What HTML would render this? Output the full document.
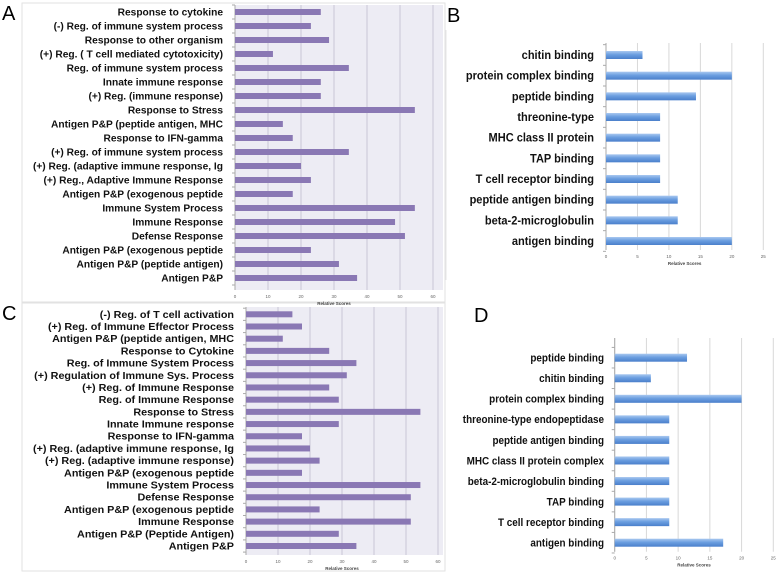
<!DOCTYPE html>
<html><head><meta charset="utf-8"><style>
html,body{margin:0;padding:0;background:#fff;}
svg{display:block;font-family:"Liberation Sans",sans-serif;}
</style></head><body>
<svg id="fig" width="778" height="574" viewBox="0 0 778 574">
<defs>
<linearGradient id="blueg" x1="0" y1="0" x2="0" y2="1">
<stop offset="0" stop-color="#a9c8f0"/><stop offset="0.45" stop-color="#6b9ee0"/><stop offset="1" stop-color="#4a7fcb"/>
</linearGradient>
</defs>
<rect x="22" y="3" width="423" height="299" fill="#fff" stroke="#e2e2e2"/>
<rect x="22" y="303" width="423" height="268" fill="#fff" stroke="#e2e2e2"/>
<line x1="446" y1="30" x2="446" y2="280" stroke="#e4e4e4"/>
<text x="2" y="20" font-size="20">A</text>
<text x="447" y="22" font-size="20">B</text>
<text x="2" y="320" font-size="20">C</text>
<text x="474" y="322" font-size="20">D</text>
<g id="charts"></g>
</svg>
<script>
const catsA = ["Response to cytokine","(-) Reg. of immune system process","Response to other organism","(+) Reg. ( T cell mediated cytotoxicity)","Reg. of immune system process","Innate immune response","(+) Reg. (immune response)","Response to Stress","Antigen P&P (peptide antigen, MHC","Response to IFN-gamma","(+) Reg. of immune system process","(+) Reg. (adaptive immune response, Ig","(+) Reg., Adaptive Immune Response","Antigen P&P (exogenous peptide","Immune System Process","Immune Response","Defense Response","Antigen P&P  (exogenous peptide","Antigen P&P (peptide antigen)","Antigen P&P"];
const valsA = [26,23,28.5,11.5,34.5,26,26,54.5,14.5,17.5,34.5,20,23,17.5,54.5,48.5,51.5,23,31.5,37];
const ticksA = [0,10,20,30,40,50,60];

const catsB = ["chitin binding","protein complex binding","peptide binding","threonine-type","MHC class II protein","TAP binding","T cell receptor binding","peptide antigen binding","beta-2-microglobulin","antigen binding"];
const valsB = [5.8,20,14.3,8.6,8.6,8.6,8.6,11.4,11.4,20];
const ticksB = [0,5,10,15,20,25];

const catsC = ["(-) Reg. of T cell activation","(+) Reg. of Immune Effector Process","Antigen P&P (peptide antigen, MHC","Response to Cytokine","Reg. of Immune System Process","(+) Regulation of Immune Sys. Process","(+) Reg. of Immune Response","Reg. of Immune Response","Response to Stress","Innate Immune response","Response to IFN-gamma","(+) Reg. (adaptive immune response, Ig","(+) Reg. (adaptive immune response)","Antigen P&P (exogenous peptide","Immune System Process","Defense Response","Antigen P&P (exogenous peptide","Immune Response","Antigen P&P  (Peptide Antigen)","Antigen P&P"];
const valsC = [14.5,17.5,11.5,26,34.5,31.5,26,29,54.5,29,17.5,20,23,17.5,54.5,51.5,23,51.5,29,34.5];
const ticksC = [0,10,20,30,40,50,60];

const catsD = ["peptide binding","chitin binding","protein complex binding","threonine-type endopeptidase","peptide antigen binding","MHC class II protein complex","beta-2-microglobulin binding","TAP binding","T cell receptor binding","antigen binding"];
const valsD = [11.4,5.7,20,8.6,8.6,8.6,8.6,8.6,8.6,17.1];
const ticksD = [0,5,10,15,20,25];

const NS = "http://www.w3.org/2000/svg";
const root = document.getElementById("charts");
function mk(tag, attrs, parent) {
  const e = document.createElementNS(NS, tag);
  for (const k in attrs) e.setAttribute(k, attrs[k]);
  (parent || root).appendChild(e);
  return e;
}

function chart(cfg, cats, vals, ticks) {
  const g = mk("g", {});
  
  
  const max = ticks[ticks.length - 1];
  const xs = v => cfg.x0 + (v / max) * (cfg.x1 - cfg.x0);
  const step = (cfg.yLast - cfg.yFirst) / (cats.length - 1);
  const ys = i => cfg.yFirst + i * step;
  if (cfg.bg) {
    const bg = mk("rect", {x: cfg.x0, y: cfg.top, width: cfg.bgRight - cfg.x0, height: cfg.bottom - cfg.top, fill: cfg.bg}, g);
    
    
  }
  ticks.forEach(t => {
    const gl = mk("line", {x1: xs(t), x2: xs(t), y1: cfg.top, y2: cfg.bottom, stroke: cfg.grid, "stroke-width": 1}, g);
    
    
    const tl = mk("text", {x: xs(t), y: cfg.bottom + 8, "font-size": 4.5, "text-anchor": "middle", fill: "#666"}, g);
    tl.textContent = t;
    
    
  });
  const ax = mk("line", {x1: cfg.x0, x2: cfg.x0, y1: cfg.top, y2: cfg.bottom, stroke: "#aaa"}, g);
  
  
  for (let i = 0; i <= cats.length; i++) {
    const ty = cfg.yFirst - step / 2 + i * step;
    const tk = mk("line", {x1: cfg.x0 - 3, x2: cfg.x0, y1: ty, y2: ty, stroke: "#aaa"}, g);
    
    
  }
  const tt = mk("text", {x: (cfg.x0 + cfg.x1) / 2, y: cfg.bottom + 15, "font-size": 4.5, "font-weight": "bold", "text-anchor": "middle", fill: "#444"}, g);
  tt.textContent = "Relative Scores";
  
  
  cats.forEach((c, i) => {
    const y = ys(i);
    const b = mk("rect", {x: cfg.x0, y: y - cfg.bh / 2, width: xs(vals[i]) - cfg.x0, height: cfg.bh, fill: cfg.fill}, g);
    
    
    const lg = mk("g", {transform: `translate(${cfg.labelX},${y + cfg.fs * 0.35}) scale(${cfg.sx},1)`}, g);
    const t = mk("text", {x: 0, y: 0, "font-size": cfg.fs, "font-weight": "bold", "text-anchor": "end", fill: "#111"}, lg);
    t.textContent = c;
    
    
  });
}

chart({name: "chart-a", x0: 235, x1: 433, bgRight: 443, top: 5, bottom: 290, yFirst: 12, yLast: 278, bh: 6, fill: "#8a78b4", bg: "#edecf4", grid: "#c9c6d6", labelX: 223, fs: 10, sx: 1.02}, catsA, valsA, ticksA);
chart({name: "chart-b", x0: 606, x1: 763.3, top: 43, bottom: 250, yFirst: 55, yLast: 241, bh: 8, fill: "url(#blueg)", grid: "#d8d8d8", labelX: 594, fs: 11.5, sx: 0.96}, catsB, valsB, ticksB);
chart({name: "chart-c", x0: 246, x1: 438, bgRight: 443, top: 307, bottom: 555, yFirst: 314.3, yLast: 546, bh: 6, fill: "#8a78b4", bg: "#edecf4", grid: "#c9c6d6", labelX: 234, fs: 10, sx: 1.08}, catsC, valsC, ticksC);
chart({name: "chart-d", x0: 614.7, x1: 773.3, top: 338, bottom: 551.7, yFirst: 357.7, yLast: 542.7, bh: 8, fill: "url(#blueg)", grid: "#d8d8d8", labelX: 604, fs: 11, sx: 0.9}, catsD, valsD, ticksD);
</script>
</body></html>
